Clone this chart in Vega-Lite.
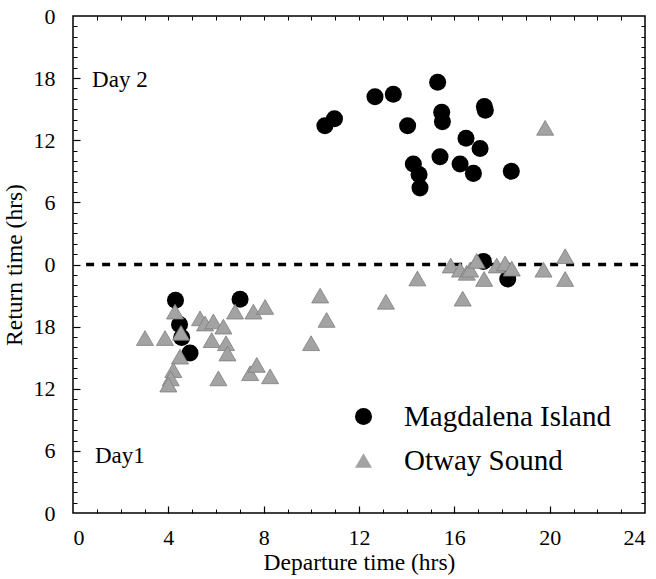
{
  "$schema": "https://vega.github.io/schema/vega-lite/v6.json",
  "width": 572,
  "height": 497,
  "autosize": {"type": "none"},
  "padding": {"left": 73, "top": 16, "right": 11, "bottom": 66},
  "background": "white",
  "config": {
    "font": "Liberation Serif",
    "view": {"stroke": "black", "strokeWidth": 1.5},
    "axis": {"grid": false, "domain": false, "labelFont": "Liberation Serif", "titleFont": "Liberation Serif", "labelColor": "black", "titleColor": "black", "tickColor": "black", "titleFontWeight": "normal"},
    "legend": {"labelFont": "Liberation Serif"}
  },
  "datasets": {
    "pts": [
      {"dep": 10.57, "ret": 37.4, "site": "Magdalena Island"},
      {"dep": 10.97, "ret": 38.07, "site": "Magdalena Island"},
      {"dep": 12.67, "ret": 40.2, "site": "Magdalena Island"},
      {"dep": 13.44, "ret": 40.45, "site": "Magdalena Island"},
      {"dep": 15.3, "ret": 41.6, "site": "Magdalena Island"},
      {"dep": 14.04, "ret": 37.4, "site": "Magdalena Island"},
      {"dep": 15.47, "ret": 38.7, "site": "Magdalena Island"},
      {"dep": 15.5, "ret": 37.8, "site": "Magdalena Island"},
      {"dep": 17.26, "ret": 39.25, "site": "Magdalena Island"},
      {"dep": 17.3, "ret": 38.9, "site": "Magdalena Island"},
      {"dep": 16.49, "ret": 36.2, "site": "Magdalena Island"},
      {"dep": 17.08, "ret": 35.2, "site": "Magdalena Island"},
      {"dep": 14.28, "ret": 33.7, "site": "Magdalena Island"},
      {"dep": 14.52, "ret": 32.7, "site": "Magdalena Island"},
      {"dep": 14.56, "ret": 31.4, "site": "Magdalena Island"},
      {"dep": 15.4, "ret": 34.4, "site": "Magdalena Island"},
      {"dep": 16.24, "ret": 33.7, "site": "Magdalena Island"},
      {"dep": 16.8, "ret": 32.8, "site": "Magdalena Island"},
      {"dep": 18.39, "ret": 33.0, "site": "Magdalena Island"},
      {"dep": 17.22, "ret": 24.3, "site": "Magdalena Island"},
      {"dep": 18.24, "ret": 22.6, "site": "Magdalena Island"},
      {"dep": 4.3, "ret": 20.55, "site": "Magdalena Island"},
      {"dep": 4.47, "ret": 18.2, "site": "Magdalena Island"},
      {"dep": 4.56, "ret": 16.95, "site": "Magdalena Island"},
      {"dep": 4.91, "ret": 15.45, "site": "Magdalena Island"},
      {"dep": 7.01, "ret": 20.65, "site": "Magdalena Island"},
      {"dep": 3.02, "ret": 16.9, "site": "Otway Sound"},
      {"dep": 3.86, "ret": 16.9, "site": "Otway Sound"},
      {"dep": 4.28, "ret": 19.45, "site": "Otway Sound"},
      {"dep": 4.53, "ret": 17.4, "site": "Otway Sound"},
      {"dep": 4.49, "ret": 15.1, "site": "Otway Sound"},
      {"dep": 4.21, "ret": 13.8, "site": "Otway Sound"},
      {"dep": 4.1, "ret": 13.0, "site": "Otway Sound"},
      {"dep": 4.0, "ret": 12.4, "site": "Otway Sound"},
      {"dep": 5.33, "ret": 18.8, "site": "Otway Sound"},
      {"dep": 5.54, "ret": 18.3, "site": "Otway Sound"},
      {"dep": 5.89, "ret": 18.5, "site": "Otway Sound"},
      {"dep": 6.31, "ret": 18.0, "site": "Otway Sound"},
      {"dep": 5.82, "ret": 16.7, "site": "Otway Sound"},
      {"dep": 6.42, "ret": 16.4, "site": "Otway Sound"},
      {"dep": 6.48, "ret": 15.4, "site": "Otway Sound"},
      {"dep": 6.1, "ret": 13.0, "site": "Otway Sound"},
      {"dep": 6.8, "ret": 19.45, "site": "Otway Sound"},
      {"dep": 7.57, "ret": 19.45, "site": "Otway Sound"},
      {"dep": 8.06, "ret": 19.9, "site": "Otway Sound"},
      {"dep": 7.43, "ret": 13.5, "site": "Otway Sound"},
      {"dep": 7.71, "ret": 14.3, "site": "Otway Sound"},
      {"dep": 8.27, "ret": 13.2, "site": "Otway Sound"},
      {"dep": 10.37, "ret": 21.0, "site": "Otway Sound"},
      {"dep": 10.64, "ret": 18.65, "site": "Otway Sound"},
      {"dep": 9.99, "ret": 16.4, "site": "Otway Sound"},
      {"dep": 13.13, "ret": 20.4, "site": "Otway Sound"},
      {"dep": 14.45, "ret": 22.65, "site": "Otway Sound"},
      {"dep": 15.85, "ret": 23.9, "site": "Otway Sound"},
      {"dep": 16.24, "ret": 23.5, "site": "Otway Sound"},
      {"dep": 16.35, "ret": 20.7, "site": "Otway Sound"},
      {"dep": 16.52, "ret": 23.2, "site": "Otway Sound"},
      {"dep": 16.66, "ret": 23.5, "site": "Otway Sound"},
      {"dep": 16.94, "ret": 24.35, "site": "Otway Sound"},
      {"dep": 17.25, "ret": 22.6, "site": "Otway Sound"},
      {"dep": 17.78, "ret": 23.9, "site": "Otway Sound"},
      {"dep": 18.13, "ret": 24.1, "site": "Otway Sound"},
      {"dep": 18.41, "ret": 23.6, "site": "Otway Sound"},
      {"dep": 19.74, "ret": 23.5, "site": "Otway Sound"},
      {"dep": 20.65, "ret": 24.8, "site": "Otway Sound"},
      {"dep": 20.65, "ret": 22.6, "site": "Otway Sound"},
      {"dep": 19.81, "ret": 37.2, "site": "Otway Sound"}
    ],
    "midline": [{"dep": 0.55, "dep2": 24, "ret": 24}],
    "days": [
      {"dep": 0.8, "ret": 41.1, "label": "Day 2"},
      {"dep": 0.92, "ret": 4.8, "label": "Day1"}
    ]
  },
  "resolve": {"axis": {"x": "independent", "y": "independent"}},
  "layer": [
    {
      "data": {"name": "midline"},
      "mark": {"type": "rule", "strokeDash": [8, 8], "strokeWidth": 3.5, "color": "black"},
      "encoding": {
        "x": {"field": "dep", "type": "quantitative", "scale": {"domain": [0, 24], "nice": false, "zero": false},
              "axis": {"orient": "bottom", "values": [4, 8, 12, 16, 20], "labels": false, "title": null, "tickSize": -7, "tickWidth": 1.2}},
        "x2": {"field": "dep2"},
        "y": {"field": "ret", "type": "quantitative", "scale": {"domain": [0, 48], "nice": false, "zero": false},
              "axis": {"orient": "left", "values": [6, 12, 18, 24, 30, 36, 42], "labels": false, "title": null, "tickSize": -7, "tickWidth": 1.2}}
      }
    },
    {
      "data": {"name": "days"},
      "mark": {"type": "text", "align": "left", "baseline": "alphabetic", "fontSize": 23, "font": "Liberation Serif", "color": "black"},
      "encoding": {
        "x": {"field": "dep", "type": "quantitative",
              "axis": {"orient": "bottom", "values": [1, 2, 3, 5, 6, 7, 9, 10, 11, 13, 14, 15, 17, 18, 19, 21, 22, 23], "labels": false, "title": null, "tickSize": -4, "tickWidth": 1}},
        "y": {"field": "ret", "type": "quantitative",
              "axis": {"orient": "left", "values": [1, 2, 3, 4, 5, 7, 8, 9, 10, 11, 13, 14, 15, 16, 17, 19, 20, 21, 22, 23, 25, 26, 27, 28, 29, 31, 32, 33, 34, 35, 37, 38, 39, 40, 41, 43, 44, 45, 46, 47], "labels": false, "title": null, "tickSize": -4, "tickWidth": 1}},
        "text": {"field": "label"}
      }
    },
    {
      "data": {"name": "pts"},
      "transform": [{"filter": "datum.site === 'Magdalena Island'"}],
      "mark": {"type": "point", "filled": true, "opacity": 1, "size": 290},
      "encoding": {
        "x": {"field": "dep", "type": "quantitative",
              "axis": {"orient": "bottom", "values": [0, 4, 8, 12, 16, 20, 24], "ticks": false, "labelFont": "Liberation Serif", "labelFontSize": 22, "labelColor": "black", "labelPadding": 14, "title": "Departure time (hrs)", "titleFont": "Liberation Serif", "titleFontSize": 23.5, "titleFontWeight": "normal", "titlePadding": 2}},
        "y": {"field": "ret", "type": "quantitative",
              "axis": {"orient": "left", "values": [0, 6, 12, 18, 24, 30, 36, 42, 48], "labelExpr": "toString(datum.value % 24)", "ticks": false, "labelFont": "Liberation Serif", "labelFontSize": 22, "labelColor": "black", "labelPadding": 18, "title": "Return time  (hrs)", "titleFont": "Liberation Serif", "titleFontSize": 23.5, "titleFontWeight": "normal", "titlePadding": 7}},
        "shape": {"field": "site", "type": "nominal", "scale": {"domain": ["Magdalena Island", "Otway Sound"], "range": ["circle", "triangle-up"]},
                  "legend": {"orient": "none", "legendX": 276, "legendY": 386, "title": null, "labelFont": "Liberation Serif", "labelFontSize": 29, "labelLimit": 400, "symbolSize": 290, "labelOffset": 26, "rowPadding": 14, "padding": 0, "labelColor": "black"}},
        "color": {"field": "site", "type": "nominal", "scale": {"domain": ["Magdalena Island", "Otway Sound"], "range": ["#000000", "#a3a3a3"]}}
      }
    },
    {
      "data": {"name": "pts"},
      "transform": [{"filter": "datum.site === 'Otway Sound'"}],
      "mark": {"type": "point", "filled": true, "opacity": 1, "size": 290, "stroke": "#7d7d7d", "strokeWidth": 0.8},
      "encoding": {
        "x": {"field": "dep", "type": "quantitative",
              "axis": {"orient": "top", "values": [1, 2, 3, 4, 5, 6, 7, 8, 9, 10, 11, 12, 13, 14, 15, 16, 17, 18, 19, 20, 21, 22, 23], "labels": false, "title": null, "tickSize": -4}},
        "y": {"field": "ret", "type": "quantitative",
              "axis": {"orient": "right", "values": [1, 2, 3, 4, 5, 6, 7, 8, 9, 10, 11, 12, 13, 14, 15, 16, 17, 18, 19, 20, 21, 22, 23, 24, 25, 26, 27, 28, 29, 30, 31, 32, 33, 34, 35, 36, 37, 38, 39, 40, 41, 42, 43, 44, 45, 46, 47], "labels": false, "title": null, "tickSize": -4}},
        "shape": {"field": "site", "type": "nominal"},
        "color": {"field": "site", "type": "nominal"}
      }
    }
  ]
}
